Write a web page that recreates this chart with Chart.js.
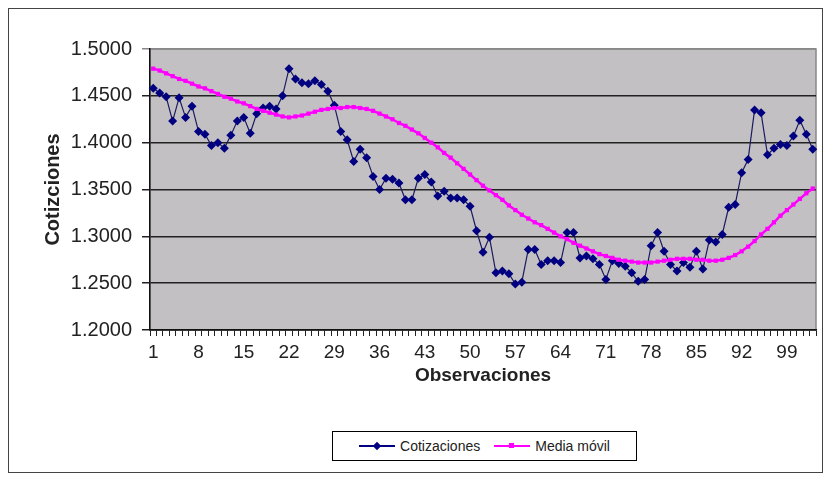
<!DOCTYPE html>
<html>
<head>
<meta charset="utf-8">
<script src="https://cdn.jsdelivr.net/npm/chart.js@4"></script>
<style>
  body { margin: 0; background: #fff; }
  #wrap { position: relative; width: 827px; height: 477px; }
  #frame { position: absolute; left: 8px; top: 8px; width: 813px; height: 463px; border: 1px solid #444; pointer-events: none; }
  #legend { position: absolute; left: 332px; top: 431px; width: 303px; height: 28px; border: 1px solid #000; background: #fff;
            font: 14px "Liberation Sans", Arial, sans-serif; color: #222; display: flex; align-items: center; justify-content: center; gap: 14px; }
  .item { display: flex; align-items: center; gap: 5px; }
  .sample { position: relative; width: 36px; height: 2px; }
  .sample i { position: absolute; }
</style>
</head>
<body>
<div id="wrap">
  <canvas id="chart" width="827" height="477"></canvas>
  <div id="frame"></div>
  <div id="legend">
    <div class="item"><span class="sample" style="background:#000080"><i style="background:#000080;transform:rotate(45deg);width:6px;height:6px;left:15px;top:-2px"></i></span>Cotizaciones</div>
    <div class="item"><span class="sample" style="background:#ff00ff"><i style="background:#ff00ff;width:5px;height:5px;left:15px;top:-2px"></i></span>Media móvil</div>
  </div>
</div>
<script>
// Observaciones 1..103
const observaciones = Array.from({ length: 103 }, (_, i) => String(i + 1));

// Cotizaciones
const cotizaciones = [
  1.458, 1.453, 1.449, 1.423, 1.448, 1.427, 1.439, 1.412, 1.409, 1.397,
  1.400, 1.394, 1.408, 1.423, 1.427, 1.410, 1.431, 1.437, 1.439, 1.436,
  1.450, 1.479, 1.468, 1.464, 1.463, 1.466, 1.462, 1.455, 1.440, 1.412,
  1.403, 1.380, 1.393, 1.384, 1.364, 1.350, 1.362, 1.361, 1.357, 1.339,
  1.339, 1.362, 1.366, 1.358, 1.343, 1.348, 1.341, 1.341, 1.339, 1.332,
  1.306, 1.283, 1.299, 1.261, 1.263, 1.260, 1.249, 1.251, 1.286, 1.286,
  1.270, 1.274, 1.274, 1.272, 1.304, 1.304, 1.277, 1.279, 1.276, 1.270,
  1.254, 1.274, 1.271, 1.268, 1.261, 1.252, 1.254, 1.290, 1.304, 1.284,
  1.270, 1.263, 1.272, 1.267, 1.284, 1.265, 1.296, 1.294, 1.302, 1.331,
  1.334, 1.368, 1.382, 1.435, 1.432, 1.387, 1.394, 1.398, 1.397, 1.407,
  1.424, 1.409, 1.393
];

// Media móvil
const mediaMovil = [
  1.479, 1.477, 1.474, 1.471, 1.468, 1.466, 1.463, 1.460, 1.458, 1.455,
  1.452, 1.449, 1.447, 1.444, 1.442, 1.439, 1.436, 1.434, 1.432, 1.430,
  1.428, 1.427, 1.428, 1.429, 1.431, 1.433, 1.435, 1.436, 1.437, 1.437,
  1.438, 1.438, 1.437, 1.436, 1.434, 1.431, 1.428, 1.425, 1.421, 1.418,
  1.414, 1.410, 1.405, 1.400, 1.395, 1.389, 1.384, 1.378, 1.372, 1.366,
  1.360, 1.354, 1.349, 1.344, 1.339, 1.333, 1.328, 1.323, 1.319, 1.315,
  1.312, 1.308, 1.304, 1.300, 1.297, 1.293, 1.290, 1.287, 1.284, 1.281,
  1.279, 1.277, 1.275, 1.274, 1.273, 1.272, 1.272, 1.272, 1.273, 1.274,
  1.275, 1.276, 1.276, 1.276, 1.275, 1.275, 1.274, 1.274, 1.275, 1.277,
  1.280, 1.284, 1.289, 1.295, 1.302, 1.308, 1.315, 1.322, 1.328, 1.334,
  1.340, 1.346, 1.351
];

const yMin = 1.2, yMax = 1.5, yStep = 0.05;
const labelEvery = 7;

// gray plot area like Excel
const plotBg = {
  id: "plotBg",
  beforeDraw(chart) {
    const { ctx, chartArea: a } = chart;
    ctx.save();
    ctx.fillStyle = "#c3c0c3";
    ctx.fillRect(a.left, a.top, a.right - a.left, a.bottom - a.top);
    ctx.strokeStyle = "#888";
    ctx.lineWidth = 1.5;
    ctx.strokeRect(a.left, a.top, a.right - a.left, a.bottom - a.top);
    ctx.restore();
  }
};

const font = "'Liberation Sans', Arial, sans-serif";

new Chart(document.getElementById("chart"), {
  type: "line",
  data: {
    labels: observaciones,
    datasets: [{
      label: "Cotizaciones",
      data: cotizaciones,
      borderColor: "#1a1a60",
      borderWidth: 1.2,
      pointStyle: "rectRot",
      pointRadius: 4.5,
      pointBackgroundColor: "#000080",
      pointBorderColor: "#000080",
      pointBorderWidth: 0,
      tension: 0,
      order: 1
    }, {
      label: "Media móvil",
      data: mediaMovil,
      borderColor: "#ff00ff",
      borderWidth: 2.5,
      pointStyle: "rect",
      pointRadius: 3,
      pointBackgroundColor: "#ff00ff",
      pointBorderColor: "#ff00ff",
      pointBorderWidth: 0,
      tension: 0,
      order: 0
    }]
  },
  options: {
    responsive: false,
    animation: false,
    layout: { padding: { left: 0, top: 49, right: 11, bottom: 82 } },
    plugins: {
      legend: { display: false },
      tooltip: { enabled: false }
    },
    scales: {
      x: {
        offset: true,
        grid: { offset: true, drawOnChartArea: false, drawTicks: true, tickLength: 6, color: "#222", lineWidth: 1 },
        border: { display: true, color: "#111", width: 1.5 },
        ticks: {
          autoSkip: false,
          maxRotation: 0,
          padding: 5,
          color: "#222",
          font: { family: font, size: 19 },
          callback: (v, i) => (i % labelEvery === 0 ? observaciones[i] : "")
        },
        title: { display: true, text: "Observaciones", color: "#222", padding: { top: 0, bottom: 8 },
                 font: { family: font, size: 19, weight: "bold" } },
        afterFit: (s) => { s.height = 65; }
      },
      y: {
        min: yMin,
        max: yMax,
        grid: {
          color: (c) => (c.tick && c.tick.value >= yMax - 1e-9 ? "#888" : "#222"),
          lineWidth: 1.5,
          tickLength: 8
        },
        border: { display: true, color: "#111", width: 1.5 },
        ticks: {
          stepSize: yStep,
          padding: 10,
          color: "#222",
          font: { family: font, size: 20 },
          callback: (v) => Number(v).toFixed(4)
        },
        title: { display: true, text: "Cotizciones", color: "#222", padding: { top: 41, bottom: 0 },
                 font: { family: font, size: 20, weight: "bold" } },
        afterFit: (s) => { s.width = 150; }
      }
    }
  },
  plugins: [plotBg]
});
</script>
</body>
</html>
